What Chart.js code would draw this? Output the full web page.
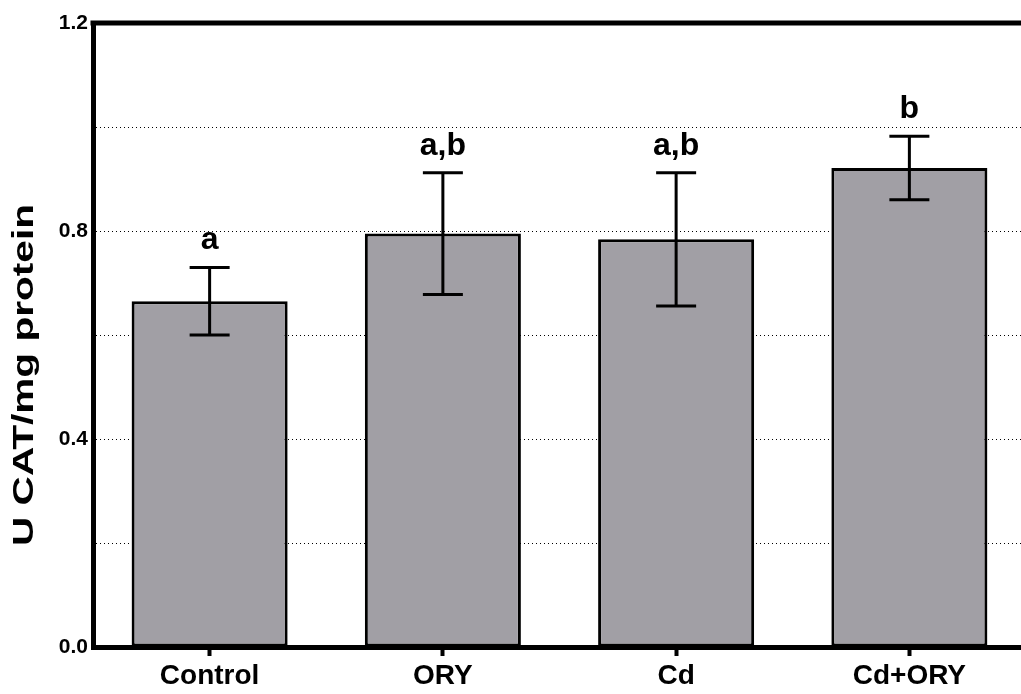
<!DOCTYPE html>
<html>
<head>
<meta charset="utf-8">
<script src="https://cdn.jsdelivr.net/npm/chart.js@4"></script>
<style>
  html, body { margin: 0; padding: 0; background: #fff; overflow: hidden; }
  #wrap { width: 1026px; height: 694px; }
</style>
</head>
<body>
<div id="wrap"><canvas id="c" width="1026" height="694"></canvas></div>
<script>
const categories = ["Control", "ORY", "Cd", "Cd+ORY"];
const means = [0.665, 0.795, 0.784, 0.921];
const errors = [0.065, 0.117, 0.128, 0.061];
const letters = ["a", "a,b", "a,b", "b"];
const yTitle = "U CAT/mg protein";
const yTickLabels = [0, 0.4, 0.8, 1.2];

const FONT = '"Liberation Sans", Arial, Helvetica, sans-serif';

const topBorder = {
  id: 'topBorder',
  afterDraw(chart) {
    const { ctx, chartArea } = chart;
    ctx.save();
    ctx.strokeStyle = '#000';
    ctx.lineWidth = 5;
    ctx.beginPath();
    ctx.moveTo(chartArea.left - 2.5, chartArea.top);
    ctx.lineTo(chart.width, chartArea.top);
    ctx.stroke();
    ctx.restore();
  }
};

const errorBars = {
  id: 'errorBars',
  afterDatasetsDraw(chart) {
    const { ctx } = chart;
    const y = chart.scales.y;
    const meta = chart.getDatasetMeta(0);
    ctx.save();
    ctx.strokeStyle = '#000';
    ctx.lineWidth = 3;
    ctx.lineCap = 'butt';
    meta.data.forEach((bar, i) => {
      const x = bar.x;
      const hi = y.getPixelForValue(means[i] + errors[i]);
      const lo = y.getPixelForValue(means[i] - errors[i]);
      ctx.beginPath();
      ctx.moveTo(x, hi); ctx.lineTo(x, lo);
      ctx.moveTo(x - 20, hi); ctx.lineTo(x + 20, hi);
      ctx.moveTo(x - 20, lo); ctx.lineTo(x + 20, lo);
      ctx.stroke();
      ctx.fillStyle = '#000';
      ctx.font = 'bold 32px ' + FONT;
      ctx.textAlign = 'center';
      ctx.textBaseline = 'alphabetic';
      ctx.fillText(letters[i], x, hi - 18);
    });
    ctx.restore();
  }
};

const titlePlugin = {
  id: 'yTitlePlugin',
  afterDraw(chart) {
    const { ctx, chartArea } = chart;
    ctx.save();
    ctx.translate(33, 375);
    ctx.rotate(-Math.PI / 2);
    ctx.scale(1.4, 1);
    ctx.fillStyle = '#000';
    ctx.font = 'bold 29px ' + FONT;
    ctx.textAlign = 'center';
    ctx.textBaseline = 'alphabetic';
    ctx.fillText(yTitle, 0, 0);
    ctx.restore();
  }
};

new Chart(document.getElementById('c'), {
  type: 'bar',
  data: {
    labels: categories,
    datasets: [{
      data: means,
      backgroundColor: '#a19fa5',
      borderColor: '#000',
      borderWidth: 3,
      borderSkipped: false,
      barPercentage: 0.669,
      categoryPercentage: 1.0
    }]
  },
  options: {
    responsive: false,
    animation: false,
    devicePixelRatio: 1,
    layout: { padding: { top: 23, right: 0, bottom: 0, left: 0 } },
    plugins: { legend: { display: false }, tooltip: { enabled: false } },
    scales: {
      x: {
        afterFit(scale) { scale.height = 47; },
        grid: {
          display: true,
          drawOnChartArea: false,
          drawTicks: true,
          offset: false,
          tickLength: 9,
          tickWidth: 4,
          tickColor: '#000',
          color: 'rgba(0,0,0,0)'
        },
        border: { display: true, color: '#000', width: 5 },
        ticks: {
          color: '#000',
          padding: 3,
          font: { family: FONT, size: 28, weight: 'bold' },
          maxRotation: 0
        }
      },
      y: {
        min: 0,
        max: 1.2,
        afterFit(scale) { scale.width = 93; },
        grid: {
          drawTicks: false,
          lineWidth: 1,
          color(ctx) {
            const v = ctx.tick ? ctx.tick.value : 0;
            return (v > 0.1 && v < 1.1) ? '#000' : 'rgba(0,0,0,0)';
          }
        },
        border: { display: true, color: '#000', width: 5, dash: [1, 3] },
        ticks: {
          stepSize: 0.2,
          color: '#000',
          padding: 5,
          font: { family: FONT, size: 21, weight: 'bold' },
          callback(v) {
            const r = Math.round(v * 10) / 10;
            return yTickLabels.some(t => Math.abs(t - r) < 1e-6) ? r.toFixed(1) : '';
          }
        }
      }
    }
  },
  plugins: [topBorder, errorBars, titlePlugin]
});
</script>
</body>
</html>
